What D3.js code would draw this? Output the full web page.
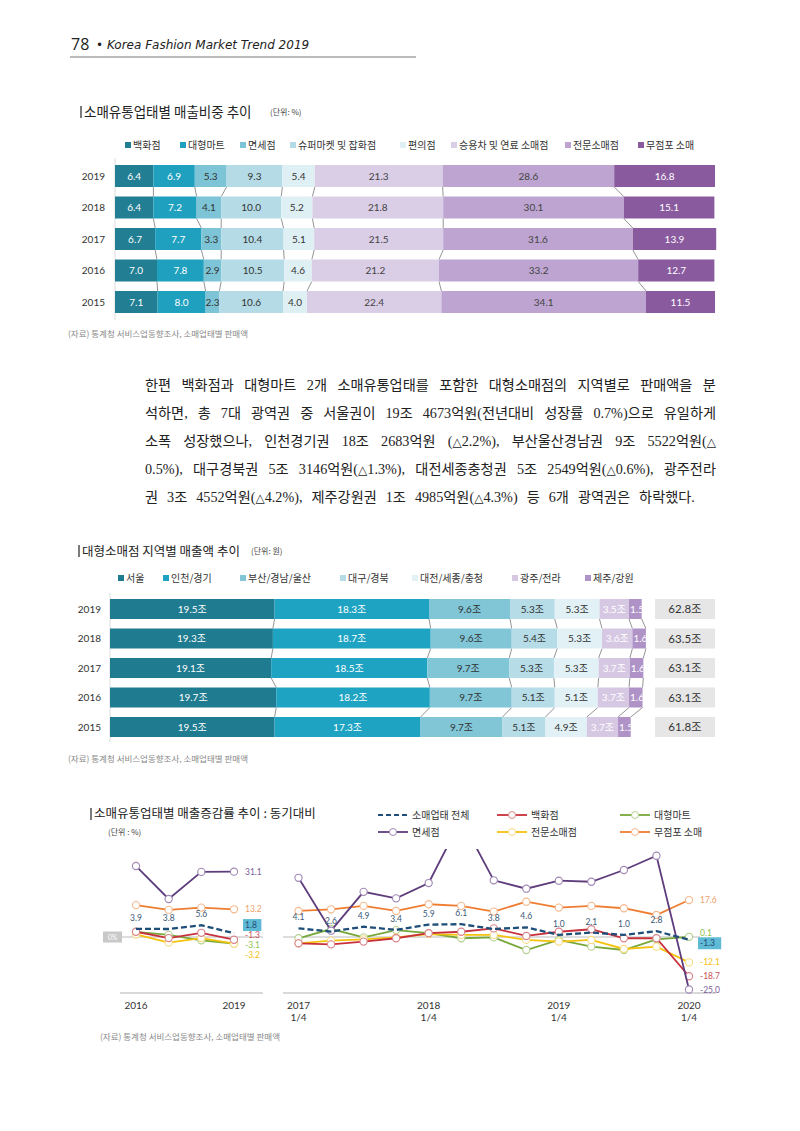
<!DOCTYPE html>
<html><head><meta charset="utf-8">
<script src="https://cdn.jsdelivr.net/npm/d3@7"></script>
<style>
body{margin:0;background:#fff;}
#page{position:relative;width:800px;height:1131px;overflow:hidden;}
svg{position:absolute;left:0;top:0;}
.para{position:absolute;left:145px;width:571px;font-family:'Liberation Serif','Noto Sans CJK KR',serif;font-size:14.2px;color:#222;white-space:nowrap;line-height:20px;display:flex;justify-content:space-between;}
.para.last{justify-content:flex-start;gap:9px;}
.tri{font-family:'DejaVu Sans',sans-serif;font-size:12px;}
</style></head><body><div id="page"><svg id="svg" width="800" height="1131"></svg></div>
<script>
// ---------- DATA ----------
const shareYears = ['2019','2018','2017','2016','2015'];
const shareCats = ['백화점','대형마트','면세점','슈퍼마켓 및 잡화점','편의점','승용차 및 연료 소매점','전문소매점','무점포 소매'];
const shareValues = [
  [6.4,6.9,5.3,9.3,5.4,21.3,28.6,16.8],
  [6.4,7.2,4.1,10.0,5.2,21.8,30.1,15.1],
  [6.7,7.7,3.3,10.4,5.1,21.5,31.6,13.9],
  [7.0,7.8,2.9,10.5,4.6,21.2,33.2,12.7],
  [7.1,8.0,2.3,10.6,4.0,22.4,34.1,11.5]
];
const regionYears = ['2019','2018','2017','2016','2015'];
const regionCats = ['서울','인천/경기','부산/경남/울산','대구/경북','대전/세종/충청','광주/전라','제주/강원'];
const regionValues = [
  [19.5,18.3,9.6,5.3,5.3,3.5,1.5],
  [19.3,18.7,9.6,5.4,5.3,3.6,1.6],
  [19.1,18.5,9.7,5.3,5.3,3.7,1.6],
  [19.7,18.2,9.7,5.1,5.1,3.7,1.6],
  [19.5,17.3,9.7,5.1,4.9,3.7,1.5]
];
const regionTotals = [62.8,63.5,63.1,63.1,61.8];

const annualLabels = ['2016','2017','2018','2019'];
const quarterLabels = ['2017 1/4','2017 2/4','2017 3/4','2017 4/4','2018 1/4','2018 2/4','2018 3/4','2018 4/4','2019 1/4','2019 2/4','2019 3/4','2019 4/4','2020 1/4'];
const growthSeries = ['소매업태 전체','백화점','대형마트','면세점','전문소매점','무점포 소매'];
const annualTotal     = [3.9, 3.8, 5.6, 1.8];
const annualDept      = [2.5, -0.5, 2.0, -1.3];
const annualMart      = [2.4, 1.0, -1.6, -3.1];
const annualDutyFree  = [33.8, 18.1, 31.0, 31.1];
const annualSpecialty = [1.2, -2.7, -0.5, -3.2];
const annualNonstore  = [15.2, 12.9, 14.0, 13.2];
const qTotal     = [4.1, 2.6, 4.9, 3.4, 5.9, 6.1, 3.8, 4.6, 1.0, 2.1, 1.0, 2.8, -1.3];
const qDept      = [-3.0, -3.5, -2.2, -0.6, 1.8, 2.5, 4.1, 0.5, 2.5, 3.7, -0.6, -0.6, -18.7];
const qMart      = [-0.6, 3.8, -0.2, 3.3, 1.8, -0.6, -0.2, -6.2, -1.4, -4.6, -6.2, -1.1, 0.1];
const qDutyFree  = [28.2, 3.0, 21.5, 18.4, 25.7, 56.0, 27.0, 23.0, 26.8, 26.3, 31.9, 38.7, -25.0];
const qSpecialty = [-3.0, -1.7, -1.1, -0.2, 1.4, 1.0, 1.0, -1.4, -2.2, -1.4, -5.7, -4.6, -12.1];
const qNonstore  = [12.4, 13.2, 14.8, 12.4, 15.6, 14.8, 12.1, 16.8, 14.0, 14.8, 13.7, 10.5, 17.6];

const paraLines = [
  '한편 백화점과 대형마트 2개 소매유통업태를 포함한 대형소매점의 지역별로 판매액을 분',
  '석하면, 총 7대 광역권 중 서울권이 19조 4673억원(전년대비 성장률 0.7%)으로 유일하게',
  '소폭 성장했으나, 인천경기권 18조 2683억원 (△2.2%), 부산울산경남권 9조 5522억원(△',
  '0.5%), 대구경북권 5조 3146억원(△1.3%), 대전세종충청권 5조 2549억원(△0.6%), 광주전라',
  '권 3조 4552억원(△4.2%), 제주강원권 1조 4985억원(△4.3%) 등 6개 광역권은 하락했다.'
];

// ---------- STYLE ----------
const FONT = "'Lato','Noto Sans CJK KR',sans-serif";
const KFONT = "'Noto Sans CJK KR',sans-serif";
const shareColors = ['#217e93','#1fa0bf','#7cc4d6','#b4dbe6','#dff0f5','#dacde6','#bea5d1','#8a5a9f'];
const shareText = ['#fff','#fff','#333','#333','#333','#444','#444','#fff'];
const regionColors = ['#1f7b8f','#1ea3c3','#80c6d7','#b5dce7','#e1f1f6','#d6c8e3','#b093c6'];
const regionText = ['#fff','#fff','#333','#333','#333','#fff','#fff'];
const lineColors = {'소매업태 전체':'#1f4e79','백화점':'#c8313c','대형마트':'#78a83a','면세점':'#5f3d7d','전문소매점':'#f4c20d','무점포 소매':'#ee7d31'};
const markerColors = {'백화점':'#d9828a','대형마트':'#b3d08e','면세점':'#9f88b5','전문소매점':'#f8dc80','무점포 소매':'#f5b88c'};
const labelColors = {'소매업태 전체':'#1f4e79','백화점':'#c8515a','대형마트':'#8fbf50','면세점':'#7a5e98','전문소매점':'#f2c01a','무점포 소매':'#f0a067'};

const svg = d3.select('#svg');
svg.append('rect').attr('width',800).attr('height',1131).attr('fill','#fff');

// ---------- HEADER ----------
svg.append('text').attr('x',71).attr('y',50).attr('font-family',"'Open Sans',sans-serif").attr('font-size',16).attr('fill','#222').text('78');
svg.append('text').attr('x',96).attr('y',49).attr('font-family',"'DejaVu Sans',sans-serif").attr('font-style','italic').attr('font-size',12).attr('fill','#222').text('•  Korea Fashion Market Trend 2019');
svg.append('line').attr('x1',70).attr('x2',416).attr('y1',57).attr('y2',57).attr('stroke','#777').attr('stroke-width',1);

function title(x,y,main,unit,unitX,fs){
  svg.append('line').attr('x1',x).attr('x2',x).attr('y1',y-6).attr('y2',y+6).attr('stroke','#222').attr('stroke-width',1.2);
  svg.append('text').attr('x',x+3).attr('y',y+4.5).attr('font-family',KFONT).attr('font-size',fs||12.5).attr('font-weight',400).attr('fill','#222').text(main);
  if(unit) svg.append('text').attr('x',unitX).attr('y',y+3).attr('font-family',KFONT).attr('font-size',8).attr('fill','#444').text(unit);
}
function source(x,y){
  svg.append('text').attr('x',x).attr('y',y).attr('font-family',KFONT).attr('font-size',8.5).attr('fill','#888').text('(자료) 통계청 서비스업동향조사, 소매업태별 판매액');
}
function legend(items,colors,xs,y){
  items.forEach((c,i)=>{
    svg.append('rect').attr('x',xs[i]).attr('y',y-3).attr('width',6).attr('height',6).attr('fill',colors[i]);
    svg.append('text').attr('x',xs[i]+8).attr('y',y+3.8).attr('font-family',KFONT).attr('font-size',10).attr('fill','#333').text(c);
  });
}

// ---------- CHART 1 ----------
title(81,112,'소매유통업태별 매출비중 추이','(단위: %)',270,13.5);
legend(shareCats,shareColors,[125,180,240,290,400,451,565,638],145);
{
  const x = d3.scaleLinear().domain([0,100]).range([115,715]);
  const y = d3.scalePoint().domain(shareYears).range([176,302]);
  const h = 22;
  svg.append('line').attr('x1',115).attr('x2',115).attr('y1',158).attr('y2',320).attr('stroke','#ddd');
  const cums = shareValues.map(r=>{let s=0;return r.map(v=>{const a=s;s+=v;return [a,s];});});
  for(let i=0;i<shareYears.length-1;i++){
    for(let k=0;k<shareCats.length-1;k++){
      svg.append('line').attr('x1',x(cums[i][k][1])).attr('y1',y(shareYears[i])+h/2)
        .attr('x2',x(cums[i+1][k][1])).attr('y2',y(shareYears[i+1])-h/2)
        .attr('stroke','#666').attr('stroke-width',0.7);
    }
  }
  shareYears.forEach((yr,i)=>{
    svg.append('text').attr('x',105).attr('y',y(yr)+3.5).attr('text-anchor','end').attr('font-family',FONT).attr('font-size',10).attr('fill','#333').text(yr);
    const g = svg.append('g');
    g.selectAll('rect').data(cums[i]).join('rect')
      .attr('x',d=>x(d[0])).attr('width',d=>x(d[1])-x(d[0])).attr('y',y(yr)-h/2).attr('height',h)
      .attr('fill',(d,k)=>shareColors[k]);
    g.selectAll('text').data(cums[i]).join('text')
      .attr('x',d=>(x(d[0])+x(d[1]))/2).attr('y',y(yr)+3.5).attr('text-anchor','middle')
      .attr('font-family',FONT).attr('font-size',10).attr('fill',(d,k)=>shareText[k])
      .text((d,k)=>shareValues[i][k].toFixed(1));
  });
  source(68,337);
}

// ---------- PARAGRAPH ----------
paraLines.forEach((t,i)=>{
  const div = d3.select('#page').append('div').attr('class','para'+(i===paraLines.length-1?' last':''))
    .style('top',(375+i*28)+'px');
  t.split(' ').forEach(word=>{
    const w = div.append('span');
    word.split('△').forEach((part,j)=>{
      if(j>0) w.append('span').attr('class','tri').text('△');
      w.append('span').text(part);
    });
  });
});

// ---------- CHART 2 ----------
title(79,551,'대형소매점 지역별 매출액 추이','(단위: 원)',251,12.5);
legend(regionCats,regionColors,[118,163,240,340,412,512,585],578);
{
  const x = d3.scaleLinear().domain([0,62.8]).range([110,640]);
  const y = d3.scalePoint().domain(regionYears).range([609,727]);
  const h = 20;
  svg.append('line').attr('x1',110).attr('x2',110).attr('y1',593).attr('y2',742).attr('stroke','#ddd');
  const cums = regionValues.map(r=>{let s=0;return r.map(v=>{const a=s;s+=v;return [a,s];});});
  for(let i=0;i<regionYears.length-1;i++){
    for(let k=0;k<regionCats.length;k++){
      svg.append('line').attr('x1',x(cums[i][k][1])).attr('y1',y(regionYears[i])+h/2)
        .attr('x2',x(cums[i+1][k][1])).attr('y2',y(regionYears[i+1])-h/2)
        .attr('stroke','#666').attr('stroke-width',0.7);
    }
  }
  const defs = svg.append('defs');
  regionYears.forEach((yr,i)=>{
    svg.append('text').attr('x',101).attr('y',y(yr)+3.5).attr('text-anchor','end').attr('font-family',FONT).attr('font-size',10).attr('fill','#333').text(yr);
    cums[i].forEach((d,k)=>{
      const id='rc'+i+'_'+k;
      defs.append('clipPath').attr('id',id).append('rect').attr('x',x(d[0])).attr('width',x(d[1])-x(d[0])).attr('y',y(yr)-h/2).attr('height',h);
      svg.append('rect').attr('x',x(d[0])).attr('width',x(d[1])-x(d[0])).attr('y',y(yr)-h/2).attr('height',h).attr('fill',regionColors[k]);
      const w = x(d[1])-x(d[0]);
      svg.append('text').attr('clip-path','url(#'+id+')')
        .attr('x',w>24?(x(d[0])+x(d[1]))/2:x(d[0])+1).attr('text-anchor',w>24?'middle':'start')
        .attr('y',y(yr)+3.5).attr('font-family',FONT).attr('font-size',10).attr('fill',regionText[k])
        .text(regionValues[i][k].toFixed(1)+'조');
    });
    svg.append('rect').attr('x',655).attr('width',60).attr('y',y(yr)-h/2).attr('height',h).attr('fill','#e6e6e6');
    svg.append('text').attr('x',685).attr('y',y(yr)+4).attr('text-anchor','middle').attr('font-family',FONT).attr('font-size',11.5).attr('fill','#333').text(regionTotals[i].toFixed(1)+'조');
  });
  source(68,762);
}

// ---------- CHART 3 ----------
{
  svg.append('line').attr('x1',91).attr('x2',91).attr('y1',808).attr('y2',820).attr('stroke','#222').attr('stroke-width',1.2);
  svg.append('text').attr('x',94).attr('y',818).attr('font-family',KFONT).attr('font-size',12.5).attr('font-weight',400).attr('fill','#222').text('소매유통업태별  매출증감률 추이 : 동기대비');
  svg.append('text').attr('x',108).attr('y',835).attr('font-family',KFONT).attr('font-size',8).attr('fill','#444').text('(단위 : %)');

  const lx=[378,497,620], ly=[815,832];
  const legOrder=['소매업태 전체','백화점','대형마트','면세점','전문소매점','무점포 소매'];
  legOrder.forEach((s,i)=>{
    const cx=lx[i%3], cy=ly[Math.floor(i/3)];
    const l=svg.append('line').attr('x1',cx).attr('x2',cx+30).attr('y1',cy).attr('y2',cy).attr('stroke',lineColors[s]).attr('stroke-width',s==='소매업태 전체'?2.2:1.8);
    if(s==='소매업태 전체') l.attr('stroke-dasharray','5,3');
    else svg.append('circle').attr('cx',cx+15).attr('cy',cy).attr('r',3.5).attr('fill','#fff').attr('stroke',markerColors[s]);
    svg.append('text').attr('x',cx+34).attr('y',cy+3.8).attr('font-family',KFONT).attr('font-size',10).attr('fill','#333').text(s);
  });

  const y = d3.scaleLinear().domain([-30,40]).range([1000,853]);
  const xA = d3.scalePoint().domain(annualLabels).range([136,234]);
  const xQ = d3.scalePoint().domain(quarterLabels).range([298.5,689]);
  const defs = svg.append('defs');
  defs.append('clipPath').attr('id','clipQ').append('rect').attr('x',270).attr('y',849).attr('width',450).attr('height',150);

  svg.append('line').attr('x1',122).attr('x2',263).attr('y1',y(0)).attr('y2',y(0)).attr('stroke','#bbb').attr('stroke-width',1);
  svg.append('line').attr('x1',283).attr('x2',700).attr('y1',y(0)).attr('y2',y(0)).attr('stroke','#bbb').attr('stroke-width',1);
  svg.append('rect').attr('x',103).attr('y',y(0)-5.5).attr('width',19).attr('height',11).attr('fill','#c8c8c8');
  svg.append('text').attr('x',112.5).attr('y',y(0)+2.5).attr('text-anchor','middle').attr('font-family',FONT).attr('font-size',7).attr('fill','#fff').text('0%');
  svg.append('line').attr('x1',120).attr('x2',263).attr('y1',993).attr('y2',993).attr('stroke','#ccc').attr('stroke-width',1.5);
  svg.append('line').attr('x1',283).attr('x2',716).attr('y1',993).attr('y2',993).attr('stroke','#ccc').attr('stroke-width',1.5);

  [annualLabels[0],annualLabels[3]].forEach(l=>{
    svg.append('text').attr('x',xA(l)).attr('y',1009).attr('text-anchor','middle').attr('font-family',FONT).attr('font-size',10).attr('fill','#333').text(l);
  });
  quarterLabels.filter(l=>l.endsWith('1/4')).forEach(l=>{
    const [yr,q]=l.split(' ');
    svg.append('text').attr('x',xQ(l)).attr('y',1009).attr('text-anchor','middle').attr('font-family',FONT).attr('font-size',10).attr('fill','#333').text(yr);
    svg.append('text').attr('x',xQ(l)).attr('y',1021).attr('text-anchor','middle').attr('font-family',FONT).attr('font-size',10).attr('fill','#333').text(q);
  });

  const annual = {'소매업태 전체':annualTotal,'백화점':annualDept,'대형마트':annualMart,'면세점':annualDutyFree,'전문소매점':annualSpecialty,'무점포 소매':annualNonstore};
  const quarterly = {'소매업태 전체':qTotal,'백화점':qDept,'대형마트':qMart,'면세점':qDutyFree,'전문소매점':qSpecialty,'무점포 소매':qNonstore};
  const drawOrder = ['대형마트','전문소매점','백화점','무점포 소매','면세점','소매업태 전체'];

  function panel(data,labels,x,clip){
    const g = svg.append('g'); if(clip) g.attr('clip-path','url(#'+clip+')');
    drawOrder.forEach(s=>{
      const vals=data[s];
      const line=d3.line().x((d,i)=>x(labels[i])).y(d=>y(d));
      const p=g.append('path').attr('d',line(vals)).attr('fill','none').attr('stroke',lineColors[s]).attr('stroke-width',s==='소매업태 전체'?2.3:1.8);
      if(s==='소매업태 전체') p.attr('stroke-dasharray','6,3');
      else g.selectAll(null).data(vals).join('circle').attr('cx',(d,i)=>x(labels[i])).attr('cy',d=>y(d)).attr('r',3.6).attr('fill','#fff').attr('stroke',markerColors[s]).attr('stroke-width',1.1);
    });
    data['소매업태 전체'].slice(0,-1).forEach((v,i)=>{
      svg.append('text').attr('x',x(labels[i])).attr('y',y(v)-8).attr('text-anchor','middle').attr('font-family',FONT).attr('font-size',8.5).attr('fill','#3a5a78').text(v.toFixed(1));
    });
    const last=labels.length-1;
    let items=growthSeries.map(s=>({s,v:data[s][last],y:y(data[s][last])}));
    items.sort((a,b)=>a.y-b.y);
    for(let it=0;it<50;it++){
      for(let j=1;j<items.length;j++){
        const gap=items[j].y-items[j-1].y;
        if(gap<10){const d=(10-gap)/2;items[j].y+=d;items[j-1].y-=d;}
      }
    }
    const lx=x(labels[last])+11;
    items.forEach(o=>{
      const txt=o.v.toFixed(1);
      if(o.s==='소매업태 전체'){
        svg.append('rect').attr('x',lx-2).attr('y',o.y-6).attr('width',txt.length*4.8+4).attr('height',12).attr('fill','#5fbad5');
        svg.append('text').attr('x',lx).attr('y',o.y+3).attr('font-family',FONT).attr('font-size',8.5).attr('fill','#1f4e79').text(txt);
      } else {
        svg.append('text').attr('x',lx).attr('y',o.y+3).attr('font-family',FONT).attr('font-size',8.5).attr('fill',labelColors[o.s]).text(txt);
      }
    });
  }
  panel(annual,annualLabels,xA,null);
  panel(quarterly,quarterLabels,xQ,'clipQ');
  source(100,1040);
}
</script></body></html>
